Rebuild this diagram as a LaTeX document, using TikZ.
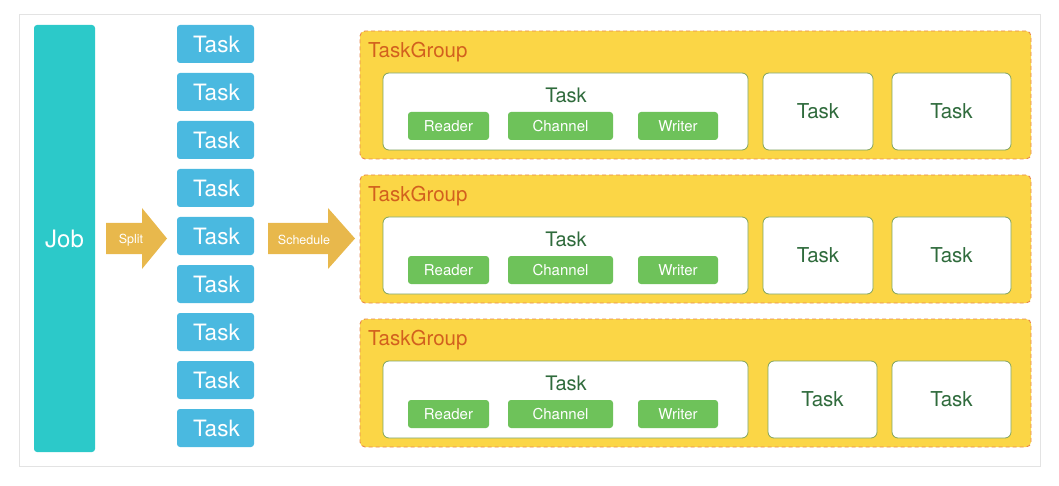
\documentclass[tikz,border=0pt]{standalone}
\usepackage{fontspec}
\setmainfont{TeX Gyre Heros}
\usetikzlibrary{positioning}

\definecolor{jobcolor}{HTML}{2CC9C9}
\definecolor{taskblue}{HTML}{4AB9E0}
\definecolor{arrowgold}{HTML}{E8B84C}
\definecolor{groupfill}{HTML}{FBD646}
\definecolor{groupline}{HTML}{E8874F}
\definecolor{grouptext}{HTML}{D2601E}
\definecolor{rwgreen}{HTML}{6EC25A}
\definecolor{boxline}{HTML}{7FA35E}
\definecolor{tasktext}{HTML}{2F6B3C}
\definecolor{framegray}{HTML}{E3E3E3}

\tikzset{
  jobbox/.style={fill=jobcolor, draw=none, rounded corners=3pt, minimum width=61pt,
    minimum height=427pt, inner sep=0pt, text=white, font=\fontsize{24}{24}\selectfont},
  bluetask/.style={fill=taskblue, draw=none, rounded corners=3pt, minimum width=77pt,
    minimum height=38pt, inner sep=0pt, text=white, font=\fontsize{22.5}{22.5}\selectfont},
  arrowtext/.style={text=white, inner sep=0pt, font=\fontsize{12.5}{12.5}\selectfont},
  groupbox/.style={fill=groupfill, draw=groupline, dash pattern=on 4pt off 3pt,
    line width=0.9pt, rounded corners=5pt, minimum width=671pt, minimum height=128pt},
  grouplabel/.style={text=grouptext, inner sep=0pt, anchor=west, font=\fontsize{20.5}{20.5}\selectfont},
  whitetask/.style={fill=white, draw=boxline, line width=0.8pt, rounded corners=6pt,
    minimum height=77pt, inner sep=0pt, text=tasktext, font=\fontsize{20.5}{20.5}\selectfont},
  tasklabel/.style={text=tasktext, inner sep=0pt, font=\fontsize{20}{20}\selectfont},
  partbox/.style={fill=rwgreen, draw=none, rounded corners=3pt, minimum height=28pt,
    inner sep=0pt, text=white, font=\fontsize{15}{15}\selectfont}
}

\begin{document}
\begin{tikzpicture}[x=1pt, y=-1pt]
\useasboundingbox (0,0) rectangle (1059,486);
\draw[framegray, line width=1pt] (19,15) rectangle (1040,466);

%% job and split tasks
\node[jobbox] (job) at (64.5,238.5) {Job};

\node[bluetask] (t1) at (215.5,44) {\hspace{2pt}Task};
\node[bluetask] (t2) at (215.5,92) {\hspace{2pt}Task};
\node[bluetask] (t3) at (215.5,140) {\hspace{2pt}Task};
\node[bluetask] (t4) at (215.5,188) {\hspace{2pt}Task};
\node[bluetask] (t5) at (215.5,236) {\hspace{2pt}Task};
\node[bluetask] (t6) at (215.5,284) {\hspace{2pt}Task};
\node[bluetask] (t7) at (215.5,332) {\hspace{2pt}Task};
\node[bluetask] (t8) at (215.5,380) {\hspace{2pt}Task};
\node[bluetask] (t9) at (215.5,428) {\hspace{2pt}Task};

%% arrows
\fill[arrowgold] (106,223) -- (142,223) -- (142,208) -- (167,238.5) -- (142,269) -- (142,254) -- (106,254) -- cycle;
\node[arrowtext] (split) at (131,240) {Split};
\fill[arrowgold] (268,223) -- (328,223) -- (328,208) -- (355,238.5) -- (328,269) -- (328,254) -- (268,254) -- cycle;
\node[arrowtext] (schedule) at (304,240) {Schedule};

%% task groups
\begin{scope}[shift={(0,0)}]
\node[groupbox] (g1) at (695.5,95) {};
\node[grouplabel] (g1label) at (368,52) {TaskGroup};
\node[whitetask, minimum width=365pt] (g1main) at (565.5,111.5) {};
\node[tasklabel] (g1mainlabel) at (566,95) {Task};
\node[partbox, minimum width=81pt] (g1reader) at (448.5,126) {Reader};
\node[partbox, minimum width=105pt] (g1channel) at (560.5,126) {Channel};
\node[partbox, minimum width=80pt] (g1writer) at (678,126) {Writer};
\node[whitetask, minimum width=110pt] (g1task2) at (818,111.5) {Task};
\node[whitetask, minimum width=119pt] (g1task3) at (951.5,111.5) {Task};
\end{scope}

\begin{scope}[shift={(0,144)}]
\node[groupbox] (g2) at (695.5,95) {};
\node[grouplabel] (g2label) at (368,52) {TaskGroup};
\node[whitetask, minimum width=365pt] (g2main) at (565.5,111.5) {};
\node[tasklabel] (g2mainlabel) at (566,95) {Task};
\node[partbox, minimum width=81pt] (g2reader) at (448.5,126) {Reader};
\node[partbox, minimum width=105pt] (g2channel) at (560.5,126) {Channel};
\node[partbox, minimum width=80pt] (g2writer) at (678,126) {Writer};
\node[whitetask, minimum width=110pt] (g2task2) at (818,111.5) {Task};
\node[whitetask, minimum width=119pt] (g2task3) at (951.5,111.5) {Task};
\end{scope}

\begin{scope}[shift={(0,288)}]
\node[groupbox] (g3) at (695.5,95) {};
\node[grouplabel] (g3label) at (368,52) {TaskGroup};
\node[whitetask, minimum width=365pt] (g3main) at (565.5,111.5) {};
\node[tasklabel] (g3mainlabel) at (566,95) {Task};
\node[partbox, minimum width=81pt] (g3reader) at (448.5,126) {Reader};
\node[partbox, minimum width=105pt] (g3channel) at (560.5,126) {Channel};
\node[partbox, minimum width=80pt] (g3writer) at (678,126) {Writer};
\node[whitetask, minimum width=109pt] (g3task2) at (822.5,111.5) {Task};
\node[whitetask, minimum width=119pt] (g3task3) at (951.5,111.5) {Task};
\end{scope}

\end{tikzpicture}
\end{document}
